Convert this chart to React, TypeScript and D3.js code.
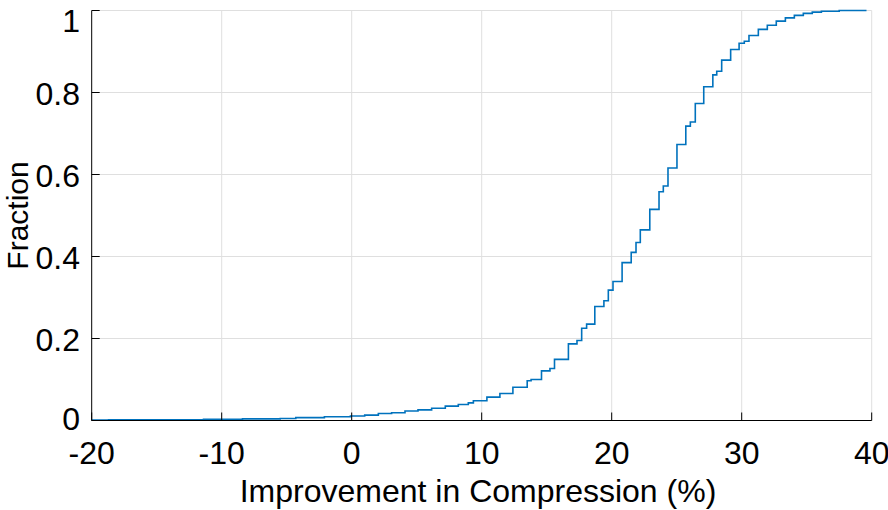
import React from "react";
import * as d3 from "d3";

// Empirical CDF steps: x position of each jump (%) and the fraction after it
const stepX: number[] = [
  -20, -18.7, -11.4, -8.4, -5.5, -4.3, -2.1, -0.1, 1.0, 2.05, 3.07, 4.1, 5.1, 6.15, 7.2, 8.2,
  8.97, 9.36, 10.4, 11.4, 12.4, 13.5, 13.8, 14.6, 15.25, 15.6, 16.67, 17.33, 17.69, 18.07,
  18.7, 19.4, 19.74, 20.1, 20.8, 21.5, 21.87, 22.2, 22.93, 23.64, 23.97, 24.33, 25.02, 25.7,
  26.05, 26.43, 27.08, 27.78, 28.08, 28.46, 29.15, 29.8, 30.2, 30.56, 31.28, 31.97, 32.66,
  33.36, 34.05, 34.74, 35.43, 36.13, 37.5, 39.6,
];
const stepY: number[] = [
  0.001, 0.002, 0.003, 0.004, 0.005, 0.007, 0.009, 0.011, 0.013, 0.017, 0.019, 0.023, 0.026,
  0.03, 0.035, 0.039, 0.043, 0.048, 0.057, 0.066, 0.081, 0.097, 0.1, 0.121, 0.127, 0.149,
  0.187, 0.195, 0.225, 0.235, 0.278, 0.292, 0.318, 0.339, 0.385, 0.41, 0.434, 0.465, 0.515,
  0.558, 0.572, 0.616, 0.673, 0.718, 0.728, 0.773, 0.814, 0.843, 0.852, 0.879, 0.905, 0.92,
  0.925, 0.939, 0.954, 0.964, 0.974, 0.982, 0.988, 0.993, 0.996, 0.998, 1.0, 1.0,
];

const xTicks: number[] = [-20, -10, 0, 10, 20, 30, 40];
const yTicks: number[] = [0, 0.2, 0.4, 0.6, 0.8, 1];
const yTickLabels: string[] = ["0", "0.2", "0.4", "0.6", "0.8", "1"];
const xLabel = "Improvement in Compression (%)";
const yLabel = "Fraction";

const W = 888;
const H = 510;
const FONT = "'Liberation Sans', Arial, Helvetica, sans-serif";

export default function App() {
  const x = d3.scaleLinear().domain([-20, 40]).range([91.7, 871.7]);
  const y = d3.scaleLinear().domain([0, 1]).range([420.5, 10.5]);
  const pts: [number, number][] = stepX.map((v, i) => [v, stepY[i]]);
  const line = d3
    .line<[number, number]>()
    .x((d) => x(d[0]))
    .y((d) => y(d[1]))
    .curve(d3.curveStepAfter);

  const grid = "#dfdfdf";
  const tickLen = 8;

  return (
    <svg
      width={W}
      height={H}
      style={{ position: "absolute", left: 0, top: 0, background: "#fff" }}
      fontFamily={FONT}
    >
      <rect x={0} y={0} width={W} height={H} fill="#fff" />
      {/* grid */}
      {xTicks.slice(1).map((t) => (
        <line key={"gx" + t} x1={x(t)} x2={x(t)} y1={y(0)} y2={y(1)} stroke={grid} strokeWidth={1} />
      ))}
      {yTicks.slice(1).map((t) => (
        <line key={"gy" + t} x1={x(-20)} x2={x(40)} y1={y(t)} y2={y(t)} stroke={grid} strokeWidth={1} />
      ))}
      {/* data */}
      <path d={line(pts) || ""} fill="none" stroke="#0072BD" strokeWidth={1.6} />
      {/* axes */}
      <line x1={x(-20)} x2={x(40)} y1={y(0)} y2={y(0)} stroke="#000" strokeWidth={1} />
      <line x1={x(-20)} x2={x(-20)} y1={y(0)} y2={y(1)} stroke="#000" strokeWidth={1} />
      {xTicks.map((t) => (
        <g key={"xt" + t}>
          <line x1={x(t)} x2={x(t)} y1={y(0)} y2={y(0) - tickLen} stroke="#000" strokeWidth={1} />
          <text x={x(t)} y={463.5} fontSize={32} textAnchor="middle" fill="#000">
            {String(t)}
          </text>
        </g>
      ))}
      {yTicks.map((t, i) => (
        <g key={"yt" + t}>
          <line x1={x(-20)} x2={x(-20) + tickLen} y1={y(t)} y2={y(t)} stroke="#000" strokeWidth={1} />
          <text
            x={80}
            y={Math.min(Math.max(y(t) + 12, 31.5), 430)}
            fontSize={32}
            textAnchor="end"
            fill="#000"
          >
            {yTickLabels[i]}
          </text>
        </g>
      ))}
      <text x={478} y={502} fontSize={32} textAnchor="middle" fill="#000">
        {xLabel}
      </text>
      <text
        transform={`translate(27.5, ${(y(0) + y(1)) / 2}) rotate(-90)`}
        fontSize={30}
        textAnchor="middle"
        fill="#000"
      >
        {yLabel}
      </text>
    </svg>
  );
}
